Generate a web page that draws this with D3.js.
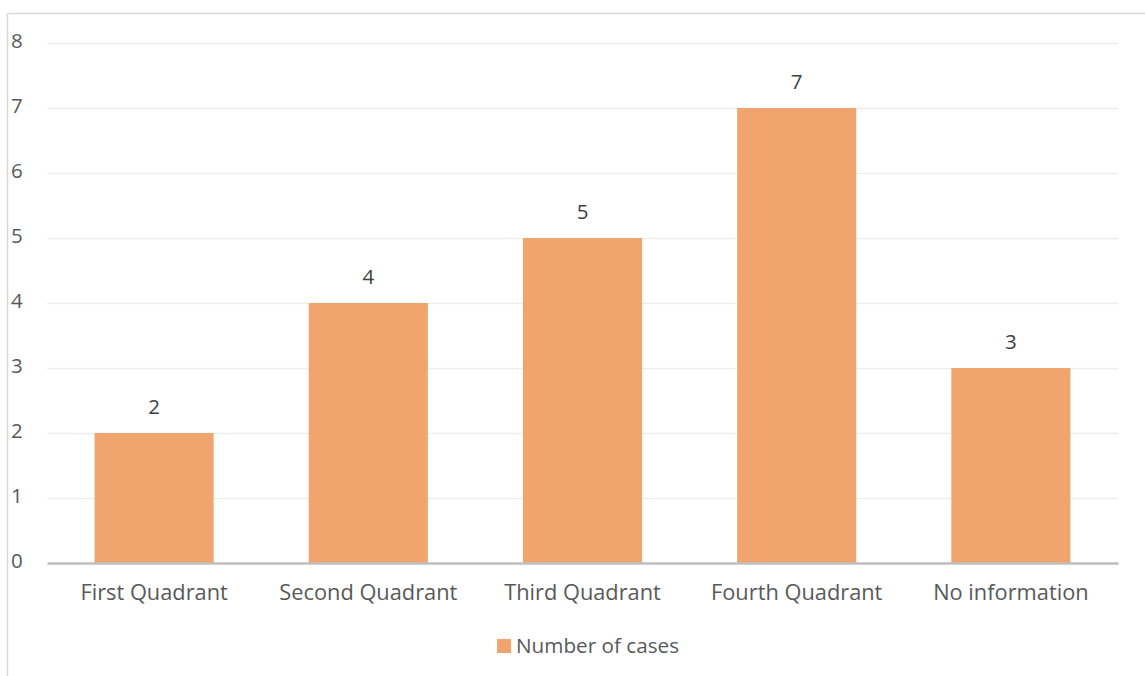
<!DOCTYPE html>
<html>
<head>
<meta charset="utf-8">
<script src="https://cdn.jsdelivr.net/npm/d3@7"></script>
<style>
  html, body { margin: 0; padding: 0; background: #fff; }
  svg { display: block; font-family: "Open Sans", "Noto Sans", sans-serif; }
</style>
</head>
<body>
<svg id="chart" width="1145" height="676"></svg>
<script>
// Cases by quadrant
const categories = ["First Quadrant", "Second Quadrant", "Third Quadrant", "Fourth Quadrant", "No information"];
const cases = [2, 4, 5, 7, 3];
const yTicks = [0, 1, 2, 3, 4, 5, 6, 7, 8];
const seriesName = "Number of cases";

const W = 1145, H = 676;
const svg = d3.select("#chart");
const plot = { left: 47, right: 1118, top: 43, bottom: 563 };
const barColor = "#f2a46e";
const textColor = "#595959";
const FONT = "'Open Sans', 'Noto Sans', sans-serif";

// Outer frame (top and left edges visible)
svg.append("line").attr("x1", 7.5).attr("x2", W).attr("y1", 13.5).attr("y2", 13.5)
  .attr("stroke", "#d9d9d9").attr("stroke-width", 1.5);
svg.append("line").attr("x1", 7.5).attr("x2", 7.5).attr("y1", 13.5).attr("y2", H)
  .attr("stroke", "#d9d9d9").attr("stroke-width", 1.5);

const x = d3.scaleBand().domain(categories).range([plot.left, plot.right])
  .paddingInner(0.444).paddingOuter(0.222);
const y = d3.scaleLinear().domain([0, 8]).range([plot.bottom, plot.top]);

// Gridlines
svg.append("g").selectAll("line").data(yTicks.filter(d => d > 0)).join("line")
  .attr("x1", plot.left).attr("x2", plot.right)
  .attr("y1", d => y(d) + 0.5).attr("y2", d => y(d) + 0.5)
  .attr("stroke", "#ededed").attr("stroke-width", 1.5);

// Y tick labels
const yAxis = d3.axisLeft(y).tickValues(yTicks).tickSize(0).tickPadding(0);
const gy = svg.append("g").attr("transform", "translate(11,0)").call(yAxis)
  .attr("font-size", null).attr("font-family", null);
gy.select(".domain").remove();
gy.selectAll("text").attr("text-anchor", "start").attr("fill", textColor)
  .attr("dy", "0.22em")
  .style("font-size", "20.5px").style("font-family", FONT);

// Bars
svg.append("g").selectAll("rect").data(cases).join("rect")
  .attr("x", (d, i) => x(categories[i]))
  .attr("width", x.bandwidth())
  .attr("y", d => y(d))
  .attr("height", d => y(0) - y(d))
  .attr("fill", barColor);

// Value labels
svg.append("g").selectAll("text").data(cases).join("text")
  .attr("x", (d, i) => x(categories[i]) + x.bandwidth() / 2)
  .attr("y", d => y(d) - 19)
  .attr("text-anchor", "middle").attr("fill", "#404040")
  .style("font-size", "20.5px").style("font-family", FONT)
  .text(d => d);

// X axis
const xAxis = d3.axisBottom(x).tickSize(0).tickPadding(0);
const gx = svg.append("g").attr("transform", `translate(0,${plot.bottom})`).call(xAxis)
  .attr("font-size", null).attr("font-family", null);
gx.select(".domain").attr("stroke", "#bfbfbf").attr("stroke-width", 2.5);
gx.selectAll("text").attr("fill", textColor)
  .attr("y", 37).attr("dy", null)
  .style("font-size", "21.8px").style("font-family", FONT);

// Legend
const leg = svg.append("g").attr("transform", "translate(497,639)");
leg.append("rect").attr("width", 14).attr("height", 14).attr("fill", barColor);
leg.append("text").attr("x", 19).attr("y", 14)
  .attr("fill", textColor).style("font-size", "20.7px").style("font-family", FONT)
  .text(seriesName);
</script>
</body>
</html>
